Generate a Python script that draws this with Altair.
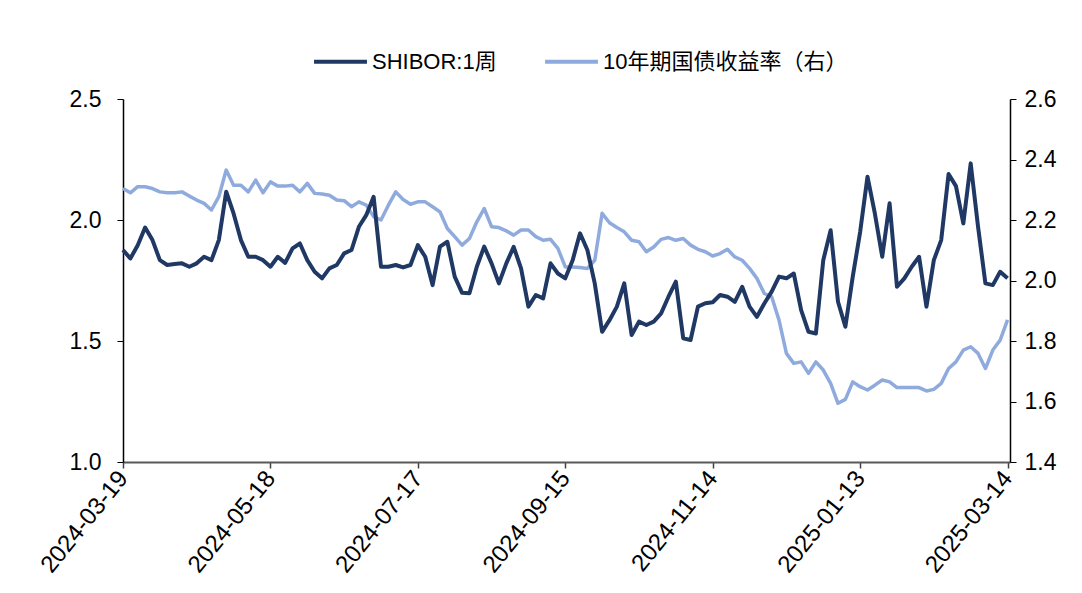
import altair as alt
import pandas as pd

# x positions: observations every 3 days from 2024-03-19 to 2025-03-14
dates = pd.date_range("2024-03-19", periods=121, freq="3D").strftime("%Y-%m-%d").tolist()

shibor = [
    1.876, 1.841, 1.896, 1.969, 1.917, 1.834, 1.814, 1.818, 1.821, 1.807,
    1.821, 1.848, 1.834, 1.917, 2.117, 2.027, 1.917, 1.848, 1.848, 1.834,
    1.807, 1.848, 1.823, 1.883, 1.903, 1.834, 1.786, 1.759, 1.800, 1.814,
    1.862, 1.876, 1.972, 2.020, 2.096, 1.807, 1.807, 1.814, 1.804, 1.814,
    1.896, 1.848, 1.731, 1.890, 1.910, 1.766, 1.699, 1.697, 1.807, 1.890,
    1.821, 1.738, 1.821, 1.889, 1.800, 1.642, 1.690, 1.676, 1.821, 1.779,
    1.759, 1.834, 1.945, 1.876, 1.738, 1.538, 1.586, 1.642, 1.738, 1.525,
    1.580, 1.566, 1.580, 1.614, 1.683, 1.745, 1.511, 1.504, 1.642, 1.656,
    1.660, 1.690, 1.683, 1.662, 1.724, 1.642, 1.600, 1.655, 1.704, 1.766,
    1.759, 1.779, 1.628, 1.538, 1.531, 1.834, 1.958, 1.662, 1.559, 1.766,
    1.950, 2.179, 2.027, 1.848, 2.069, 1.724, 1.759, 1.807, 1.848, 1.642,
    1.834, 1.917, 2.190, 2.140, 1.986, 2.234, 1.972, 1.738, 1.731, 1.786,
    1.759,
]

bond10y = [
    2.304, 2.290, 2.310, 2.310, 2.304, 2.293, 2.290, 2.290, 2.293, 2.279,
    2.266, 2.255, 2.233, 2.277, 2.365, 2.315, 2.315, 2.293, 2.332, 2.290,
    2.326, 2.312, 2.312, 2.315, 2.293, 2.321, 2.288, 2.286, 2.282, 2.266,
    2.264, 2.244, 2.260, 2.249, 2.211, 2.200, 2.249, 2.293, 2.268, 2.252,
    2.260, 2.260, 2.244, 2.227, 2.172, 2.145, 2.117, 2.139, 2.194, 2.238,
    2.178, 2.175, 2.164, 2.150, 2.167, 2.167, 2.145, 2.133, 2.136, 2.106,
    2.045, 2.045, 2.043, 2.040, 2.067, 2.222, 2.191, 2.175, 2.161, 2.133,
    2.128, 2.095, 2.111, 2.136, 2.142, 2.133, 2.139, 2.117, 2.103, 2.095,
    2.081, 2.089, 2.103, 2.078, 2.067, 2.040, 2.007, 1.957, 1.946, 1.869,
    1.759, 1.726, 1.731, 1.693, 1.731, 1.704, 1.660, 1.594, 1.607, 1.665,
    1.649, 1.638, 1.654, 1.671, 1.665, 1.646, 1.646, 1.646, 1.646, 1.635,
    1.640, 1.660, 1.709, 1.731, 1.770, 1.781, 1.759, 1.709, 1.770, 1.803,
    1.870,
]

s1 = "SHIBOR:1周"
s2 = "10年期国债收益率（右）"
series_names = [s1, s2]
series_colors = ["#203864", "#8FAADC"]

left_ticks = [1.0, 1.5, 2.0, 2.5]
right_ticks = [1.4, 1.6, 1.8, 2.0, 2.2, 2.4, 2.6]
x_tick_dates = [(2024, 3, 19), (2024, 5, 18), (2024, 7, 17), (2024, 9, 15),
                (2024, 11, 14), (2025, 1, 13), (2025, 3, 14)]

df = pd.DataFrame({
    "date": dates * 2,
    "value": shibor + bond10y,
    "series": [s1] * len(dates) + [s2] * len(dates),
})

FONT = "Liberation Sans, Noto Sans CJK SC"


def dt(y, m, d):
    return alt.DateTime(year=y, month=m, date=d, utc=True)


x_enc = alt.X(
    "date:T",
    title=None,
    scale=alt.Scale(type="utc", domain=[dt(2024, 3, 19), dt(2025, 3, 15)]),
    axis=alt.Axis(
        values=[dt(*t) for t in x_tick_dates],
        labelExpr="utcFormat(datum.value, '%Y-%m-%d')",
        labelAngle=-51,
        labelAlign="right",
        labelBaseline="middle",
        labelFontSize=24,
        labelFont=FONT,
        labelColor="black",
        labelPadding=6,
        labelOverlap=False,
        labelBound=False,
        labelFlush=False,
        tickSize=6,
        tickColor="#404040",
        tickWidth=1.5,
        domainColor="#595959",
        domainWidth=2,
        grid=False,
    ),
)

color_enc = alt.Color(
    "series:N",
    scale=alt.Scale(domain=series_names, range=series_colors),
    legend=alt.Legend(
        title=None,
        orient="none",
        legendX=189,
        legendY=-66,
        direction="horizontal",
        symbolType="stroke",
        symbolSize=2800,
        symbolStrokeWidth=4,
        labelFontSize=22,
        labelFont=FONT,
        labelColor="black",
        labelOffset=3,
        labelLimit=600,
        columnPadding=40,
    ),
)

base = alt.Chart(df)

left = base.transform_filter(alt.datum.series == s1).mark_line(
    strokeWidth=4, strokeJoin="round"
).encode(
    x=x_enc,
    y=alt.Y(
        "value:Q",
        title=None,
        scale=alt.Scale(domain=[1.0, 2.5], nice=False, zero=False),
        axis=alt.Axis(
            orient="left",
            values=left_ticks,
            format=".1f",
            labelFontSize=23,
            labelFont=FONT,
            labelColor="black",
            labelPadding=16,
            tickSize=6,
            tickColor="black",
            domainColor="black",
            domainWidth=1.5,
            grid=False,
        ),
    ),
    color=color_enc,
)

right = base.transform_filter(alt.datum.series == s2).mark_line(
    strokeWidth=3.5, strokeJoin="round"
).encode(
    x=x_enc,
    y=alt.Y(
        "value:Q",
        title=None,
        scale=alt.Scale(domain=[1.4, 2.6], nice=False, zero=False),
        axis=alt.Axis(
            orient="right",
            values=right_ticks,
            format=".1f",
            labelFontSize=23,
            labelFont=FONT,
            labelColor="black",
            labelPadding=8,
            tickSize=6,
            tickColor="black",
            domainColor="black",
            domainWidth=1.5,
            grid=False,
        ),
    ),
    color=color_enc,
)

chart = alt.layer(right, left).resolve_scale(y="independent").properties(
    width=887,
    height=363,
    autosize=alt.AutoSizeParams(type="none"),
    padding={"left": 115, "top": 91, "right": 60, "bottom": 118},
    background="white",
).configure_view(stroke=None)

chart.save("out.html", embed_options={"renderer": "svg", "actions": False})
